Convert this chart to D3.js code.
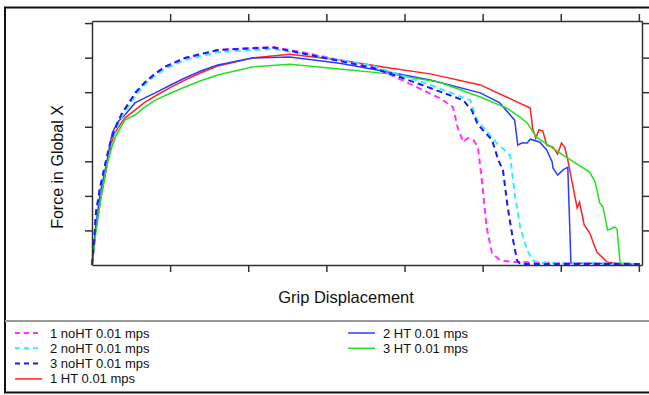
<!DOCTYPE html>
<html>
<head>
<meta charset="utf-8">
<script src="https://cdn.jsdelivr.net/npm/d3@7"></script>
<style>
  body { margin: 0; background: #fff; }
  svg { display: block; font-family: 'Liberation Sans', Arial, sans-serif; }
  .c-axis path, .c-axis line { stroke: #333; stroke-width: 1.5; }
  .c-line { fill: none; }
</style>
</head>
<body>
<div id="forceChart"></div>
<script>
// displacement / force pairs (axis units = tick spacing)
const noHT1 = [[0,0],[0.03,0.72],[0.05,1.45],[0.10,2.17],[0.17,2.89],[0.23,3.47],[0.28,3.82],[0.32,4.05],[0.38,4.35],[0.46,4.63],[0.56,4.98],[0.68,5.29],[0.80,5.52],[0.93,5.73],[1.19,5.99],[1.61,6.22],[2.05,6.28],[2.32,6.31],[2.75,6.13],[3.17,5.93],[3.60,5.73],[3.94,5.38],[4.29,5.00],[4.45,4.83],[4.62,4.57],[4.68,3.99],[4.75,3.56],[4.81,3.67],[4.88,3.62],[4.94,3.41],[5.00,2.26],[5.05,1.10],[5.12,0.35],[5.22,0.14],[5.39,0.09],[5.99,0.06],[7.01,0.03]];
const noHT2 = [[0,0],[0.03,0.72],[0.05,1.45],[0.10,2.17],[0.17,2.89],[0.23,3.41],[0.28,3.76],[0.32,3.99],[0.38,4.29],[0.46,4.57],[0.56,4.92],[0.68,5.23],[0.80,5.46],[0.93,5.67],[1.19,5.93],[1.61,6.16],[2.05,6.22],[2.32,6.25],[2.75,6.10],[3.17,5.93],[3.60,5.76],[3.94,5.50],[4.33,5.21],[4.84,4.77],[4.93,4.19],[5.06,3.85],[5.18,3.53],[5.35,3.18],[5.41,2.08],[5.48,1.10],[5.57,0.43],[5.64,0.14],[5.73,0.06],[7.01,0.03]];
const noHT3 = [[0,0],[0.03,0.75],[0.05,1.50],[0.10,2.20],[0.17,2.93],[0.23,3.50],[0.28,3.85],[0.32,4.08],[0.38,4.38],[0.46,4.65],[0.56,5.00],[0.68,5.29],[0.80,5.52],[0.93,5.73],[1.19,5.99],[1.61,6.22],[2.05,6.27],[2.32,6.29],[2.75,6.10],[3.17,5.90],[3.60,5.70],[3.94,5.44],[4.33,5.12],[4.75,4.77],[4.86,4.48],[4.93,4.11],[5.00,3.91],[5.12,3.62],[5.20,3.04],[5.26,2.75],[5.32,1.68],[5.39,0.72],[5.44,0.14],[5.48,0.03],[7.01,0.03]];
const ht1 = [[0,0],[0.04,0.93],[0.12,2.02],[0.20,2.98],[0.25,3.50],[0.28,3.76],[0.33,3.96],[0.42,4.25],[0.55,4.48],[0.67,4.70],[0.81,4.89],[1.00,5.13],[1.19,5.35],[1.40,5.57],[1.61,5.76],[2.05,5.99],[2.53,6.10],[3.17,5.93],[3.81,5.70],[4.33,5.53],[4.97,5.21],[5.61,4.54],[5.64,3.96],[5.68,3.67],[5.72,3.91],[5.77,3.88],[5.82,3.47],[5.90,3.41],[5.96,3.21],[6.01,3.53],[6.05,3.41],[6.09,3.04],[6.16,2.23],[6.21,1.65],[6.24,1.82],[6.30,1.16],[6.37,0.93],[6.46,0.38],[6.59,0.09],[6.76,0.03],[7.01,0.0]];
const ht2 = [[0,0],[0.04,0.95],[0.10,2.02],[0.19,2.98],[0.23,3.50],[0.26,3.82],[0.33,4.14],[0.42,4.34],[0.55,4.69],[0.67,4.83],[0.81,4.98],[1.00,5.20],[1.19,5.41],[1.40,5.62],[1.61,5.79],[2.05,5.99],[2.53,6.02],[3.17,5.84],[3.81,5.58],[4.33,5.35],[4.97,4.98],[5.22,4.69],[5.41,4.19],[5.45,3.47],[5.50,3.53],[5.57,3.53],[5.61,3.64],[5.73,3.56],[5.82,3.33],[5.89,2.98],[5.90,2.81],[5.96,2.60],[6.03,2.75],[6.09,2.83],[6.13,0.06],[7.01,0.03]];
const ht3 = [[0,0],[0.05,0.95],[0.12,2.02],[0.20,2.98],[0.26,3.45],[0.31,3.76],[0.42,4.19],[0.55,4.34],[0.67,4.56],[0.81,4.77],[1.00,4.97],[1.19,5.15],[1.40,5.34],[1.61,5.50],[2.05,5.73],[2.53,5.81],[3.17,5.67],[3.81,5.53],[4.45,5.29],[4.97,4.86],[5.31,4.54],[5.48,4.28],[5.57,4.11],[5.69,3.70],[6.03,3.18],[6.37,2.69],[6.44,2.40],[6.50,1.79],[6.54,1.68],[6.60,1.01],[6.69,1.10],[6.72,1.04],[6.76,0.06],[7.01,0.03]];

const seriesNames = ['1 noHT 0.01 mps', '2 noHT 0.01 mps', '3 noHT 0.01 mps', '1 HT 0.01 mps', '2 HT 0.01 mps', '3 HT 0.01 mps'];
const seriesColors = ['#ff33ff', '#33eeff', '#1a1aff', '#ff2222', '#2b3bff', '#22e022'];
const seriesDashed = [true, true, true, false, false, false];
const xTicks = [1, 2, 3, 4, 5, 6, 7];
const yTicks = [1, 2, 3, 4, 5, 6, 7];

class ForceDisplacementChart {
  constructor (series) {
    this.series = series;
    this.chartContainer = d3.select('#forceChart');
    this.chart = null;
    this.chartWidth = 649;
    this.chartHeight = 395;
    this.plotLeft = 92;
    this.plotRight = 642;
    this.plotTop = 21;
    this.plotBottom = 265;
  }

  createSvg () {
    this.chart = this.chartContainer
      .append('svg')
      .attr('width', this.chartWidth)
      .attr('height', this.chartHeight);

    // outer frame, its right edge is cut off in the original
    this.chart.append('rect')
      .attr('x', 5).attr('y', 7.5)
      .attr('width', 660).attr('height', 385)
      .attr('fill', '#fff').attr('stroke', '#111').attr('stroke-width', 2);

    this.chart.append('line')
      .attr('x1', 5).attr('x2', 649).attr('y1', 321).attr('y2', 321)
      .attr('stroke', '#999').attr('stroke-width', 2);
  }

  initScales () {
    // tick 7 sits 3px inside the right edge, tick 7 on y 2px below the top
    this.xScale = d3.scaleLinear().domain([0, 7.04]).range([this.plotLeft, this.plotRight]);
    this.yScale = d3.scaleLinear().domain([0, 7.06]).range([this.plotBottom, this.plotTop]);
  }

  drawAxes () {
    const axes = [
      [d3.axisBottom(this.xScale).tickValues(xTicks), 'translate(0,' + this.plotBottom + ')'],
      [d3.axisTop(this.xScale).tickValues(xTicks), 'translate(0,' + this.plotTop + ')'],
      [d3.axisLeft(this.yScale).tickValues(yTicks), 'translate(' + this.plotLeft + ',0)'],
      [d3.axisRight(this.yScale).tickValues(yTicks), 'translate(' + this.plotRight + ',0)']
    ];
    axes.forEach(([axis, transform]) => {
      this.chart.append('g')
        .attr('class', 'c-axis')
        .attr('transform', transform)
        .call(axis.tickSize(7).tickSizeOuter(0).tickFormat(''));
    });

    this.chart.append('text')
      .attr('x', 346).attr('y', 303)
      .attr('text-anchor', 'middle')
      .attr('font-size', 16.5)
      .attr('fill', '#111')
      .text('Grip Displacement');

    this.chart.append('text')
      .attr('transform', 'translate(63,167) rotate(-90)')
      .attr('text-anchor', 'middle')
      .attr('font-size', 16)
      .attr('fill', '#111')
      .text('Force in Global X');
  }

  drawLines () {
    const line = d3.line()
      .x((d) => this.xScale(d[0]))
      .y((d) => this.yScale(d[1]));

    // solid ones first so the dashed ones stay on top like the original
    const order = [3, 4, 5, 0, 1, 2];
    this.chart.append('g')
      .selectAll('path')
      .data(order)
      .enter()
      .append('path')
      .attr('class', 'c-line')
      .attr('d', (i) => line(this.series[i]))
      .attr('stroke', (i) => seriesColors[i])
      .attr('stroke-width', (i) => seriesDashed[i] ? 2 : 1.5)
      .attr('stroke-dasharray', (i) => seriesDashed[i] ? '6,4' : null);
  }

  drawLegend () {
    const entries = seriesNames.map((name, i) => {
      const col = i < 4 ? 0 : 1;
      const row = i < 4 ? i : i - 4;
      return {name: name, i: i, x: col === 0 ? 15 : 348, y: 333 + row * 15.3};
    });

    const legend = this.chart.append('g').attr('class', 'c-legend');
    const item = legend.selectAll('g')
      .data(entries)
      .enter()
      .append('g')
      .attr('transform', (d) => 'translate(' + d.x + ',' + d.y + ')');

    item.append('line')
      .attr('x1', 0).attr('x2', 27)
      .attr('stroke', (d) => seriesColors[d.i])
      .attr('stroke-width', (d) => seriesDashed[d.i] ? 2 : 1.5)
      .attr('stroke-dasharray', (d) => seriesDashed[d.i] ? '5,4' : null);

    item.append('text')
      .attr('x', 35).attr('y', 4.5)
      .attr('font-size', 13)
      .attr('fill', '#111')
      .text((d) => d.name);
  }

  render () {
    this.createSvg();
    this.initScales();
    this.drawLines();
    this.drawAxes();
    this.drawLegend();
  }
}

new ForceDisplacementChart([noHT1, noHT2, noHT3, ht1, ht2, ht3]).render();
</script>
</body>
</html>
